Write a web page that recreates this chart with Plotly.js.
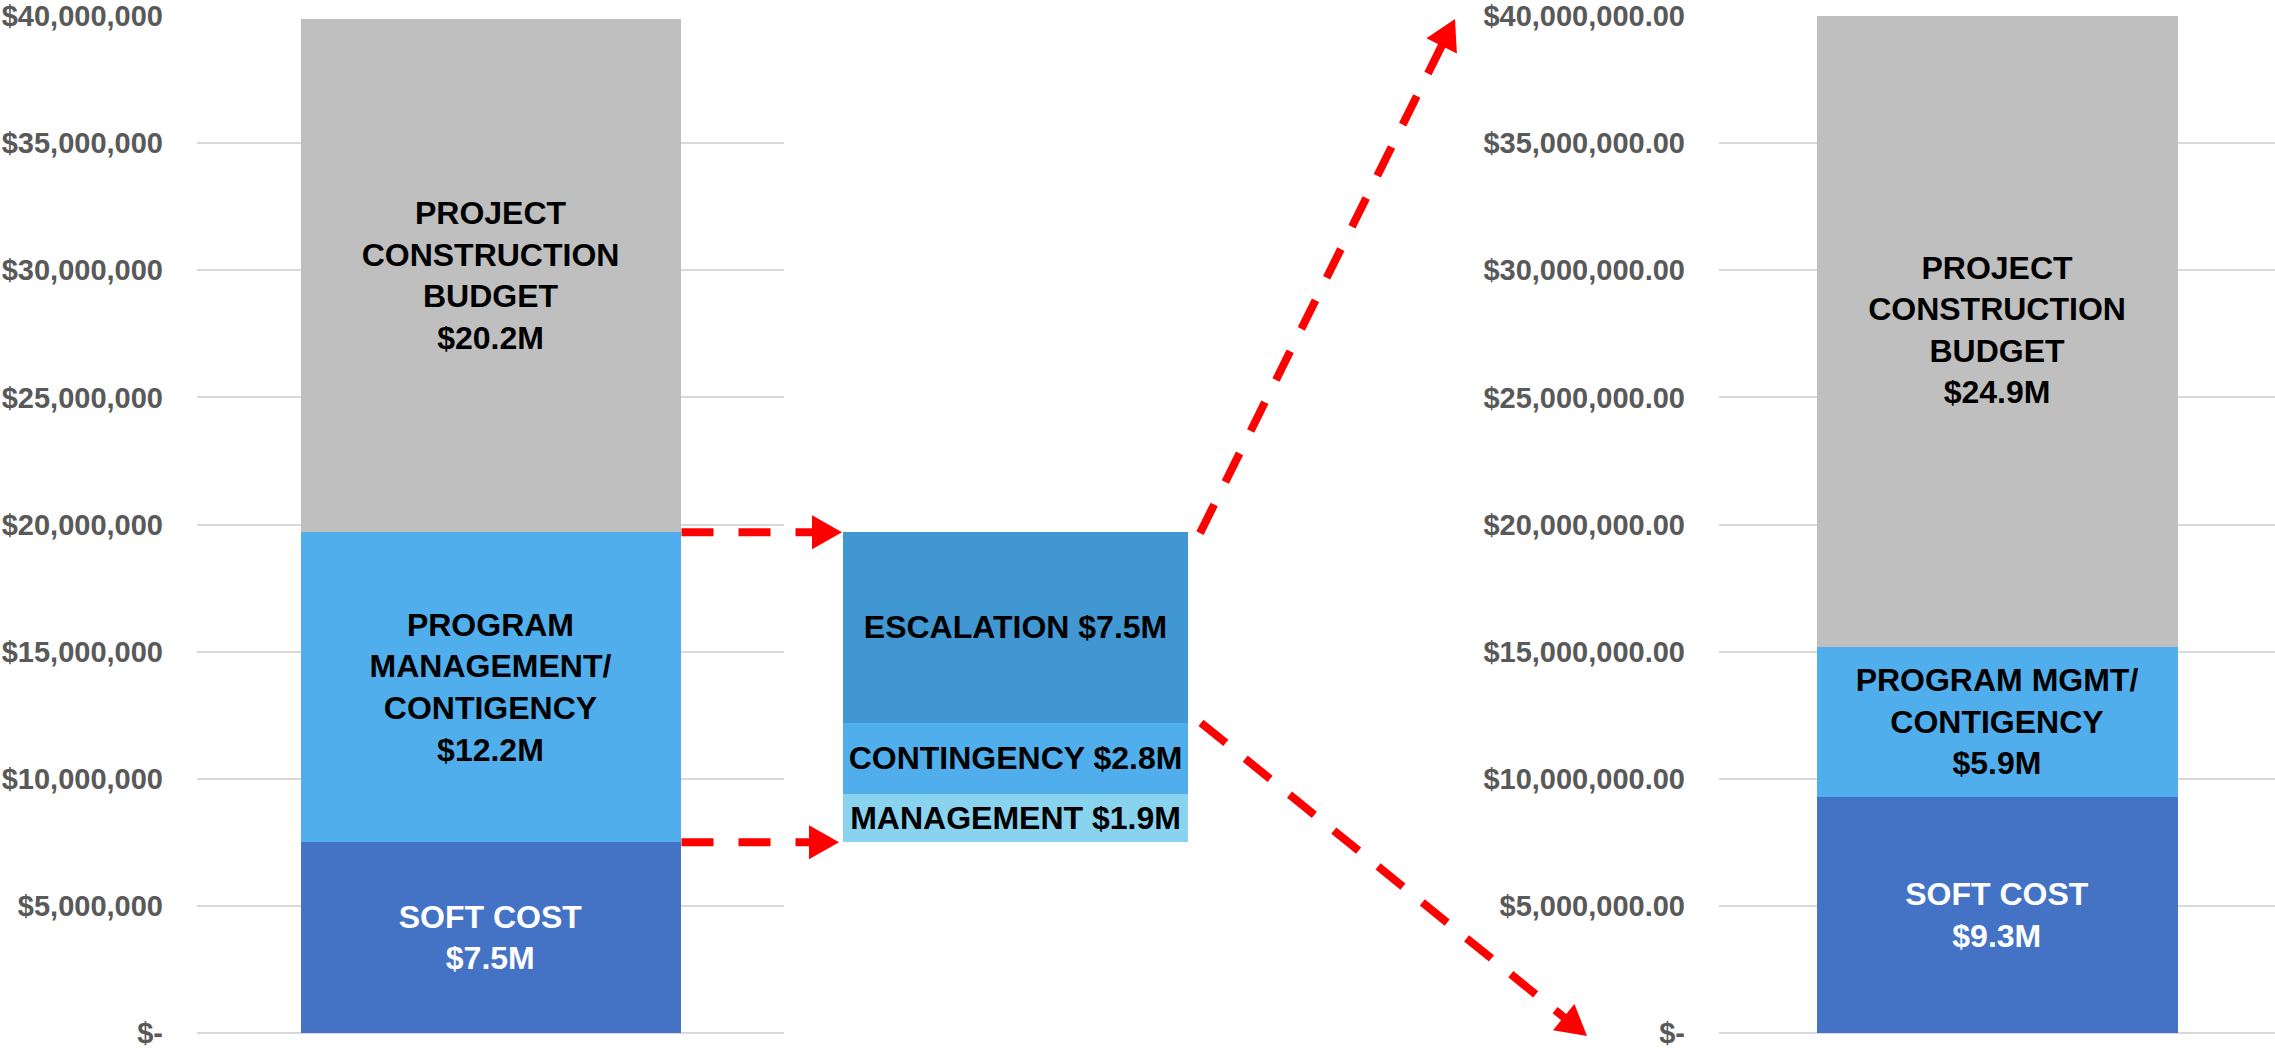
<!DOCTYPE html>
<html>
<head>
<meta charset="utf-8">
<script src="https://cdn.plot.ly/plotly-3.0.1.min.js"></script>
<style>
  html, body { margin: 0; padding: 0; background: #ffffff; }
  #chart { width: 2275px; height: 1048px; }
</style>
</head>
<body>
<div id="chart"></div>
<script>
// ---------------- DATA ----------------
const beforeLabels = ["SOFT COST", "PROGRAM<br>MANAGEMENT/<br>CONTIGENCY", "PROJECT<br>CONSTRUCTION<br>BUDGET"];
const beforeValues = [7.5e6, 12.2e6, 20.2e6];

const breakdownLabels = ["MANAGEMENT", "CONTINGENCY", "ESCALATION"];
const breakdownValues = [1.9e6, 2.8e6, 7.5e6];

const afterLabels = ["SOFT COST", "PROGRAM MGMT/<br>CONTIGENCY", "PROJECT<br>CONSTRUCTION<br>BUDGET"];
const afterValues = [9.3e6, 5.9e6, 24.9e6];

const tickValues = [0, 5e6, 10e6, 15e6, 20e6, 25e6, 30e6, 35e6, 40e6];
const leftTickText = ["$-", "$5,000,000", "$10,000,000", "$15,000,000", "$20,000,000",
                      "$25,000,000", "$30,000,000", "$35,000,000", "$40,000,000"];
const rightTickText = ["$-", "$5,000,000.00", "$10,000,000.00", "$15,000,000.00", "$20,000,000.00",
                       "$25,000,000.00", "$30,000,000.00", "$35,000,000.00", "$40,000,000.00"];

// ---------------- STYLE ----------------
const W = 2275, H = 1048, mT = 16, mB = 15;
const plotH = H - mT - mB;
const yMax = 40e6;
const FONT = "Liberation Sans, Arial, Helvetica, sans-serif";
const segColors = ["#4472C4", "#4FAEEB", "#BFBFBF"];
const segTextColors = ["#FFFFFF", "#000000", "#000000"];
const brkColors = ["#89D3EF", "#4FAEEB", "#4097D1"];

const leftDom = [197, 784], midDom = [843, 1188], rightDom = [1719, 2275];
const leftBarW = 380 / 587, rightBarW = 361 / 556, midBarW = 1;

const fmt = v => "$" + (v / 1e6).toFixed(1) + "M";

const traces = [];
function segTrace(val, label, color, txtColor, xa, ya, width, sep) {
  return {
    type: "bar", x: [0], y: [val], width: [width],
    xaxis: xa, yaxis: ya,
    marker: { color: color, line: { width: 0 } },
    text: [label + sep + fmt(val)],
    textposition: "inside", insidetextanchor: "middle",
    textangle: 0, constraintext: "none",
    textfont: { family: FONT, size: 32, color: txtColor, weight: "bold" },
    hoverinfo: "skip", showlegend: false
  };
}
beforeValues.forEach((v, i) => traces.push(segTrace(v, beforeLabels[i], segColors[i], segTextColors[i], "x", "y", leftBarW, "<br>")));
// invisible base for middle breakdown (sits on top of soft cost)
traces.push({
  type: "bar", x: [0], y: [beforeValues[0]], width: [midBarW], xaxis: "x2", yaxis: "y2",
  marker: { color: "rgba(0,0,0,0)" }, hoverinfo: "skip", showlegend: false
});
breakdownValues.forEach((v, i) => traces.push(segTrace(v, breakdownLabels[i], brkColors[i], "#000000", "x2", "y2", midBarW, " ")));
afterValues.forEach((v, i) => traces.push(segTrace(v, afterLabels[i], segColors[i], segTextColors[i], "x3", "y3", rightBarW, "<br>")));

// ---------------- ARROWS ----------------
const X = px => px / W;
const Y = py => (H - mB - py) / plotH;
const valToPy = v => H - mB - v / yMax * plotH;
const shapes = [];
function dashedArrow(x0, y0, x1, y1) {
  const dx = x1 - x0, dy = y1 - y0, L = Math.hypot(dx, dy);
  const ux = dx / L, uy = dy / L;
  const headLen = 30, headHalf = 17;
  const bx = x1 - ux * headLen, by = y1 - uy * headLen;
  shapes.push({
    type: "line", xref: "paper", yref: "paper",
    x0: X(x0), y0: Y(y0), x1: X(bx + ux * 2), y1: Y(by + uy * 2),
    line: { color: "#FF0000", width: 8, dash: "32px,25px" }
  });
  const nx = -uy, ny = ux;
  shapes.push({
    type: "path", xref: "paper", yref: "paper",
    path: `M ${X(x1)} ${Y(y1)} L ${X(bx + nx * headHalf)} ${Y(by + ny * headHalf)} L ${X(bx - nx * headHalf)} ${Y(by - ny * headHalf)} Z`,
    fillcolor: "#FF0000", line: { width: 0 }
  });
}
const leftBarRight = leftDom[0] + (0.5 + leftBarW / 2) * (leftDom[1] - leftDom[0]);
const midLeft = midDom[0], midRight = midDom[1];
const softTop = beforeValues[0];
const pmTop = beforeValues[0] + beforeValues[1];
const midEscBottom = beforeValues[0] + breakdownValues[0] + breakdownValues[1];
dashedArrow(leftBarRight + 1, valToPy(pmTop), midLeft - 1, valToPy(pmTop));
dashedArrow(leftBarRight + 1, valToPy(softTop), midLeft - 4, valToPy(softTop));
dashedArrow(midRight + 12, valToPy(pmTop) + 1, rightDom[0] - 264, valToPy(yMax) + 3);
dashedArrow(midRight + 13, valToPy(midEscBottom), rightDom[0] - 132, valToPy(0) + 3);

// ---------------- LAYOUT ----------------
const tickFont = { family: FONT, size: 29, color: "#595959", weight: "bold" };
const yBase = {
  range: [0, yMax], tickvals: tickValues, showgrid: true,
  gridcolor: "#D9D9D9", gridwidth: 2, zeroline: true, zerolinecolor: "#D9D9D9", zerolinewidth: 2,
  showline: false, ticks: "", ticklabelstandoff: 33, ticklabeloverflow: "allow",
  tickfont: tickFont, fixedrange: true
};
const layout = {
  width: W, height: H,
  margin: { l: 0, r: 0, t: mT, b: mB, pad: 0 },
  paper_bgcolor: "#FFFFFF", plot_bgcolor: "rgba(0,0,0,0)",
  barmode: "stack", bargap: 0, showlegend: false,
  xaxis:  { domain: [leftDom[0] / W, leftDom[1] / W], range: [-0.5, 0.5], visible: false, fixedrange: true },
  xaxis2: { domain: [midDom[0] / W, midDom[1] / W], range: [-0.5, 0.5], visible: false, fixedrange: true },
  xaxis3: { domain: [rightDom[0] / W, rightDom[1] / W], range: [-0.5, 0.5], visible: false, fixedrange: true },
  yaxis:  Object.assign({}, yBase, { anchor: "x", ticktext: leftTickText }),
  yaxis2: { anchor: "x2", range: [0, yMax], visible: false, fixedrange: true },
  yaxis3: Object.assign({}, yBase, { anchor: "x3", ticktext: rightTickText }),
  shapes: shapes
};

Plotly.newPlot("chart", traces, layout, { staticPlot: true, displayModeBar: false });
</script>
</body>
</html>
